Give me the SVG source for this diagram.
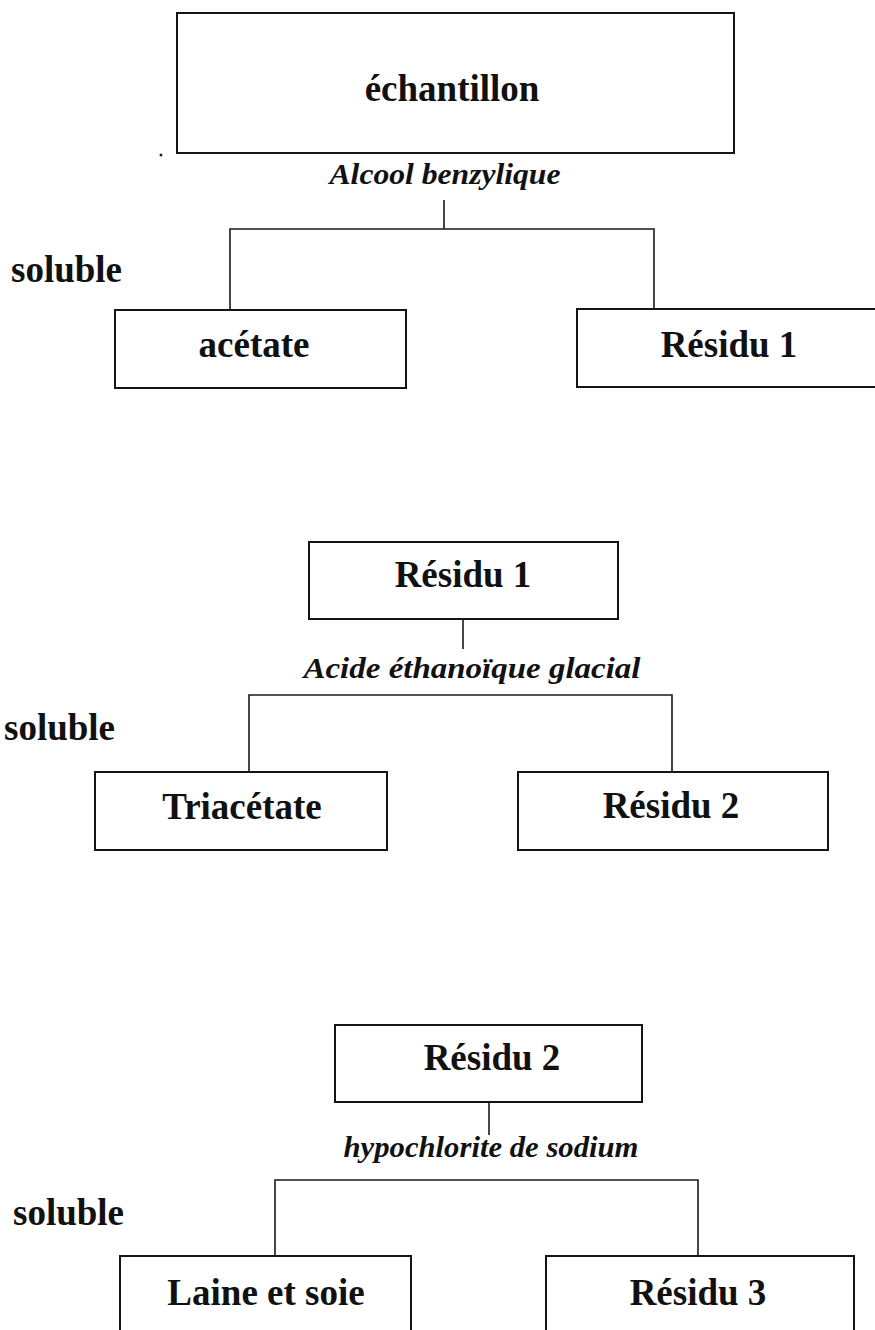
<svg xmlns="http://www.w3.org/2000/svg" width="875" height="1330" viewBox="0 0 875 1330">
<style>
.box{fill:none;stroke:#141414;stroke-width:2}
.con{fill:none;stroke:#1a1a1a;stroke-width:1.6}
.lbl{font-family:"Liberation Serif","Times New Roman",serif;font-weight:bold;font-size:37px;fill:#111;text-anchor:middle}
.sol{font-family:"Liberation Serif","Times New Roman",serif;font-weight:bold;font-size:37px;fill:#111}
.rea{font-family:"Liberation Serif","Times New Roman",serif;font-weight:bold;font-style:italic;font-size:29px;fill:#111;text-anchor:middle}
</style>
<rect width="875" height="1330" fill="#fff"/>
<g id="connectors">
<line class="con" x1="444" y1="200" x2="444" y2="229"/>
<polyline class="con" points="230,309 230,229 654,229 654,309"/>
<line class="con" x1="463" y1="619" x2="463" y2="649"/>
<polyline class="con" points="249,772 249,695 672,695 672,772"/>
<line class="con" x1="489" y1="1102" x2="489" y2="1135"/>
<polyline class="con" points="275,1256 275,1180 698,1180 698,1256"/>
</g>
<g id="n-echantillon">
<rect class="box" x="177" y="13" width="557" height="140"/>
<text class="lbl" x="452" y="101">échantillon</text>
</g>
<circle cx="161" cy="155" r="1.5" fill="#222"/>
<g id="r-alcool"><text class="rea" x="445" y="184" textLength="231" lengthAdjust="spacingAndGlyphs">Alcool benzylique</text></g>
<g id="s1"><text class="sol" x="11" y="282">soluble</text></g>
<g id="n-acetate">
<rect class="box" x="115" y="310" width="291" height="78"/>
<text class="lbl" x="254" y="357">acétate</text>
</g>
<g id="n-residu1a">
<rect class="box" x="577" y="309" width="310" height="78"/>
<text class="lbl" x="729" y="357">Résidu 1</text>
</g>
<g id="n-residu1b">
<rect class="box" x="309" y="542" width="309" height="77"/>
<text class="lbl" x="463" y="587">Résidu 1</text>
</g>
<g id="r-acide"><text class="rea" x="472" y="678" textLength="337" lengthAdjust="spacingAndGlyphs">Acide éthanoïque glacial</text></g>
<g id="s2"><text class="sol" x="4" y="740">soluble</text></g>
<g id="n-triacetate">
<rect class="box" x="95" y="772" width="292" height="78"/>
<text class="lbl" x="242" y="819">Triacétate</text>
</g>
<g id="n-residu2a">
<rect class="box" x="518" y="772" width="310" height="78"/>
<text class="lbl" x="671" y="818">Résidu 2</text>
</g>
<g id="n-residu2b">
<rect class="box" x="335" y="1025" width="307" height="77"/>
<text class="lbl" x="492" y="1070">Résidu 2</text>
</g>
<g id="r-hypo"><text class="rea" x="491" y="1157" textLength="295" lengthAdjust="spacingAndGlyphs">hypochlorite de sodium</text></g>
<g id="s3"><text class="sol" x="13" y="1225">soluble</text></g>
<g id="n-laine">
<rect class="box" x="120" y="1256" width="291" height="90"/>
<text class="lbl" x="266" y="1305">Laine et soie</text>
</g>
<g id="n-residu3">
<rect class="box" x="546" y="1256" width="308" height="90"/>
<text class="lbl" x="698" y="1305">Résidu 3</text>
</g>
</svg>
